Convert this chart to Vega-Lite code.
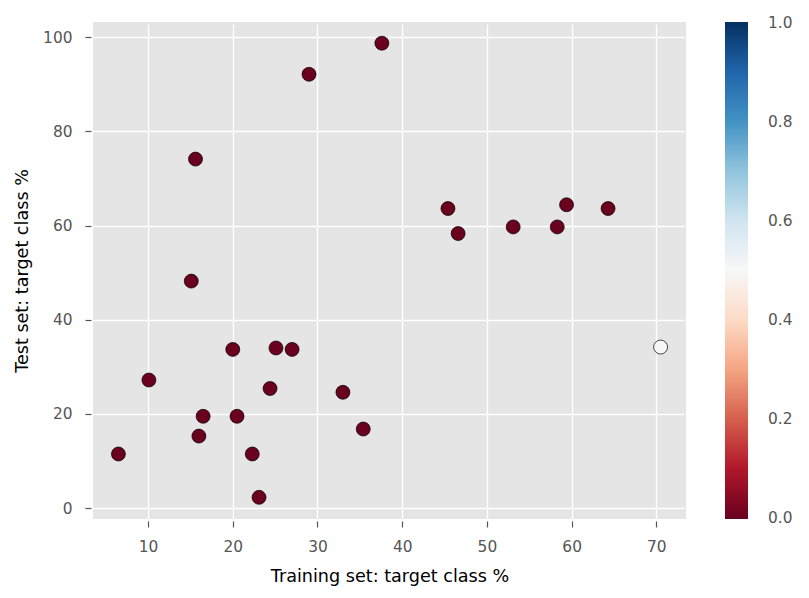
{
  "$schema": "https://vega.github.io/schema/vega-lite/v6.json",
  "width": 593,
  "height": 497,
  "autosize": "none",
  "padding": {"left": 93, "top": 22, "right": 123, "bottom": 79},
  "background": "white",
  "config": {
    "font": "DejaVu Sans",
    "view": {"fill": "#E5E5E5", "stroke": null},
    "axis": {
      "domain": false,
      "grid": true,
      "gridColor": "white",
      "gridWidth": 1.3,
      "tickColor": "#555555",
      "tickSize": 6,
      "tickWidth": 1.2,
      "offset": 2,
      "labelColor": "#555555",
      "labelFontSize": 15.4,
      "labelFont": "DejaVu Sans",
      "titleFont": "DejaVu Sans",
      "titleFontSize": 17.6,
      "titleFontWeight": "normal",
      "titleColor": "black"
    }
  },
  "data": {
    "values": [
      {"train": 6.5, "test": 11.5, "v": 0},
      {"train": 10.1, "test": 27.2, "v": 0},
      {"train": 15.6, "test": 74.1, "v": 0},
      {"train": 15.1, "test": 48.2, "v": 0},
      {"train": 16.0, "test": 15.3, "v": 0},
      {"train": 16.5, "test": 19.5, "v": 0},
      {"train": 20.0, "test": 33.7, "v": 0},
      {"train": 20.5, "test": 19.5, "v": 0},
      {"train": 22.3, "test": 11.5, "v": 0},
      {"train": 23.1, "test": 2.3, "v": 0},
      {"train": 24.4, "test": 25.4, "v": 0},
      {"train": 25.1, "test": 34.0, "v": 0},
      {"train": 27.0, "test": 33.7, "v": 0},
      {"train": 29.0, "test": 92.1, "v": 0},
      {"train": 33.0, "test": 24.6, "v": 0},
      {"train": 35.4, "test": 16.8, "v": 0},
      {"train": 37.6, "test": 98.7, "v": 0},
      {"train": 45.4, "test": 63.6, "v": 0},
      {"train": 46.6, "test": 58.3, "v": 0},
      {"train": 53.1, "test": 59.7, "v": 0},
      {"train": 58.3, "test": 59.7, "v": 0},
      {"train": 59.4, "test": 64.4, "v": 0},
      {"train": 64.3, "test": 63.6, "v": 0},
      {"train": 70.5, "test": 34.2, "v": 0.5}
    ]
  },
  "mark": {"type": "point", "shape": "circle", "filled": true, "size": 195, "stroke": "black", "strokeWidth": 0.7, "opacity": 1},
  "encoding": {
    "x": {
      "field": "train",
      "type": "quantitative",
      "scale": {"domain": [3.5, 73.5], "nice": false, "zero": false},
      "axis": {
        "values": [10, 20, 30, 40, 50, 60, 70],
        "title": "Training set: target class %",
        "labelPadding": 12,
        "titleBaseline": "alphabetic",
        "titleY": 60
      }
    },
    "y": {
      "field": "test",
      "type": "quantitative",
      "scale": {"domain": [-2.3, 103.2], "nice": false, "zero": false},
      "axis": {
        "values": [0, 20, 40, 60, 80, 100],
        "title": "Test set: target class %",
        "labelPadding": 13,
        "titleBaseline": "alphabetic",
        "titleX": -64
      }
    },
    "color": {
      "field": "v",
      "type": "quantitative",
      "scale": {
        "domain": [-0.003, 0.1, 0.2, 0.3, 0.4, 0.5, 0.6, 0.7, 0.8, 0.9, 1.003],
        "range": ["#67001f", "#b2182b", "#d6604d", "#f4a582", "#fddbc7", "#f7f7f7", "#d1e5f0", "#92c5de", "#4393c3", "#2166ac", "#053061"],
        "interpolate": "rgb"
      },
      "legend": {
        "title": null,
        "orient": "none",
        "legendX": 632,
        "legendY": 0,
        "direction": "vertical",
        "gradientLength": 497,
        "gradientThickness": 23,
        "gradientStrokeWidth": 0,
        "values": [0, 0.2, 0.4, 0.6, 0.8, 1.0],
        "format": ".1f",
        "labelOffset": 20,
        "labelFontSize": 15.4,
        "labelColor": "#555555",
        "labelFont": "DejaVu Sans",
        "labelOverlap": false
      }
    }
  }
}
